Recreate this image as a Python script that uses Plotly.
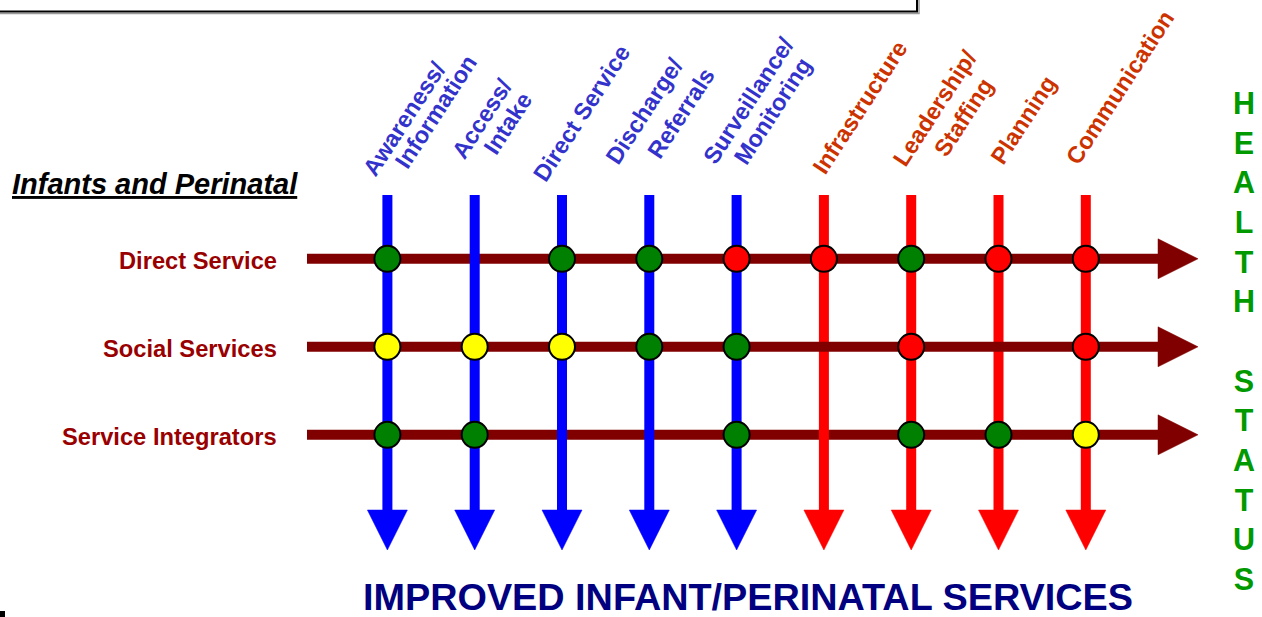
import math
import plotly.graph_objects as go

# ---------------- data ----------------
COLUMNS = ["Awareness/\nInformation", "Access/\nIntake", "Direct Service", "Discharge/\nReferrals",
           "Surveillance/\nMonitoring", "Infrastructure", "Leadership/\nStaffing", "Planning",
           "Communication"]
COLUMN_GROUP = ["service", "service", "service", "service", "service",
                "system", "system", "system", "system"]
ROWS = ["Direct Service", "Social Services", "Service Integrators"]
STATUS_DIRECT = ["green", None, "green", "green", "red", "red", "green", "red", "red"]
STATUS_SOCIAL = ["yellow", "yellow", "yellow", "green", "green", None, "red", None, "red"]
STATUS_INTEGRATORS = ["green", "green", None, None, "green", None, "green", "green", "yellow"]
SECTION_TITLE = "Infants and Perinatal"
BOTTOM_TITLE = "IMPROVED INFANT/PERINATAL SERVICES"
SIDE_TITLE = "HEALTH STATUS"

STATUS = [STATUS_DIRECT, STATUS_SOCIAL, STATUS_INTEGRATORS]

# ---------------- layout / style ----------------
W, H = 1262, 617
X0, DX = 387.4, 87.3      # pixel position of column 0 and column spacing
Y0, DY = 258.8, 88.0      # pixel position of row 0 and row spacing


def ux(p):
    return (p - X0) / DX


def uy(p):
    return (p - Y0) / DY


FONT = "Arial, Liberation Sans, sans-serif"
GROUP_LINE = {"service": "#0000FF", "system": "#FF0000"}
GROUP_TEXT = {"service": "#3333CC", "system": "#CC3300"}
STATUS_COLOR = {"green": "#008000", "yellow": "#FFFF00", "red": "#FF0000"}
ROW_COLOR = "#800000"
ROW_TEXT = "#990000"

V_TOP, V_SHAFT_END, V_TIP, V_HALF = 195, 510, 550, 20
H_START, H_SHAFT_END, H_TIP, H_HALF = 307, 1158, 1198, 20
LINE_W = 10

# offsets (px) of each label line's baseline start from (column, top of arrow)
LABEL_START = [
    [(-21, -20), (11, -28)],
    [(-19, -37), (13, -42)],
    [(-25, -15)],
    [(-40, -32), (2, -38)],
    [(-30, -32), (1, -32)],
    [(-7, -22)],
    [(-14, -30), (27, -40)],
    [(-4, -32)],
    [(-16, -32)],
]
LABEL_FIX = (9, 3)
ANGLE = 57
LBL_F = 23.5

fig = go.Figure()


def vline(i):
    c = GROUP_LINE[COLUMN_GROUP[i]]
    return go.Scatter(x=[i, i], y=[uy(V_TOP), uy(V_SHAFT_END + 1)], mode="lines",
                      line=dict(color=c, width=LINE_W), hoverinfo="skip")


def hline(j):
    return go.Scatter(x=[ux(H_START), ux(H_SHAFT_END + 1)], y=[j, j], mode="lines",
                      line=dict(color=ROW_COLOR, width=LINE_W), hoverinfo="skip")


# layering as in the original
fig.add_trace(hline(2))
for i in range(len(COLUMNS)):
    if COLUMN_GROUP[i] == "system":
        fig.add_trace(vline(i))
fig.add_trace(hline(0))
fig.add_trace(hline(1))
for i in range(len(COLUMNS)):
    if COLUMN_GROUP[i] == "service":
        fig.add_trace(vline(i))

# arrow heads
hw = V_HALF / DX
for i in range(len(COLUMNS)):
    c = GROUP_LINE[COLUMN_GROUP[i]]
    fig.add_trace(go.Scatter(x=[i - hw, i + hw, i, i - hw],
                             y=[uy(V_SHAFT_END), uy(V_SHAFT_END), uy(V_TIP), uy(V_SHAFT_END)],
                             mode="lines", fill="toself", fillcolor=c,
                             line=dict(color=c, width=0.5), hoverinfo="skip"))
hh = H_HALF / DY
for j in range(len(ROWS)):
    fig.add_trace(go.Scatter(x=[ux(H_SHAFT_END), ux(H_SHAFT_END), ux(H_TIP), ux(H_SHAFT_END)],
                             y=[j - hh, j + hh, j, j - hh],
                             mode="lines", fill="toself", fillcolor=ROW_COLOR,
                             line=dict(color=ROW_COLOR, width=0.5), hoverinfo="skip"))

# status circles
cx, cy, cc = [], [], []
for j, row in enumerate(STATUS):
    for i, s in enumerate(row):
        if s:
            cx.append(i)
            cy.append(j)
            cc.append(STATUS_COLOR[s])
fig.add_trace(go.Scatter(x=cx, y=cy, mode="markers",
                         marker=dict(size=26, color=cc, line=dict(color="black", width=2)),
                         hoverinfo="skip"))

ann = []
# column labels
th = math.radians(ANGLE)
dsc = 0.212 * LBL_F
hgt = 1.117 * LBL_F
for i, lab in enumerate(COLUMNS):
    for k, line in enumerate(lab.split("\n")):
        dx, dy = LABEL_START[i][k]
        ax = dx + LABEL_FIX[0] + (dsc - hgt) * math.sin(th)
        ay = dy + LABEL_FIX[1] + dsc * math.cos(th)
        ann.append(dict(x=i, y=uy(V_TOP), xref="x", yref="y", text="<b>%s</b>" % line,
                        textangle=-ANGLE, xanchor="left", yanchor="bottom",
                        xshift=ax, yshift=-ay, showarrow=False, borderpad=0, borderwidth=0,
                        font=dict(family=FONT, size=LBL_F, color=GROUP_TEXT[COLUMN_GROUP[i]])))

# row labels
for j, r in enumerate(ROWS):
    ann.append(dict(x=ux(278), y=j, xref="x", yref="y", text="<b>%s</b>" % r,
                    xanchor="right", yanchor="middle", yshift=-2, showarrow=False,
                    borderpad=0, font=dict(family=FONT, size=23.7, color=ROW_TEXT)))

ann.append(dict(x=ux(11), y=uy(184), xref="x", yref="y",
                text="<b><i><u>%s</u></i></b>" % SECTION_TITLE,
                xanchor="left", yanchor="middle", showarrow=False, borderpad=0,
                font=dict(family=FONT, size=29, color="black")))

ann.append(dict(x=ux(748), y=uy(597), xref="x", yref="y", text="<b>%s</b>" % BOTTOM_TITLE,
                xanchor="center", yanchor="middle", showarrow=False, borderpad=0,
                font=dict(family=FONT, size=37.8, color="#000080")))

side = "<br>".join(ch if ch != " " else " " for ch in SIDE_TITLE)
ann.append(dict(x=ux(1244), y=uy(341), xref="x", yref="y", text="<b>%s</b>" % side,
                xanchor="center", yanchor="middle", showarrow=False, borderpad=0,
                font=dict(family=FONT, size=30.5, color="#009900")))

shapes = [
    dict(type="rect", xref="x", yref="y", x0=ux(-10), x1=ux(919), y0=uy(-10), y1=uy(13.5),
         line=dict(color="#9a9a9a", width=1.5), fillcolor="white", layer="below"),
    dict(type="rect", xref="x", yref="y", x0=ux(-10), x1=ux(917), y0=uy(-10), y1=uy(11.5),
         line=dict(color="black", width=2), fillcolor="white", layer="below"),
    dict(type="rect", xref="x", yref="y", x0=ux(0), x1=ux(5), y0=uy(611), y1=uy(617),
         line=dict(width=0), fillcolor="black", layer="below"),
]

fig.update_layout(
    width=W, height=H, margin=dict(l=0, r=0, t=0, b=0),
    paper_bgcolor="white", plot_bgcolor="white", showlegend=False, hovermode=False,
    xaxis=dict(range=[ux(0), ux(W)], visible=False, fixedrange=True),
    yaxis=dict(range=[uy(H), uy(0)], visible=False, fixedrange=True),
    annotations=ann, shapes=shapes,
)

fig.write_html("out.html", config={"displayModeBar": False},
               post_script="document.body.style.margin='0';")
